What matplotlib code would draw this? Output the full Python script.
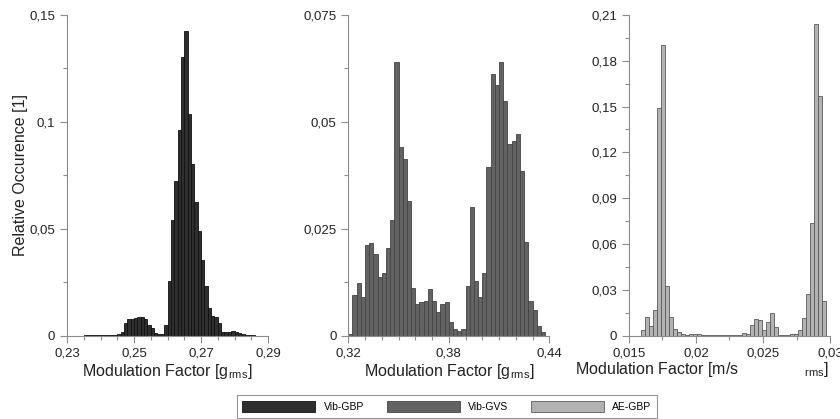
import matplotlib
matplotlib.use("Agg")
import matplotlib.pyplot as plt
from matplotlib.ticker import FixedLocator, FuncFormatter
from matplotlib.patches import Patch

plt.rcParams['font.family'] = ['Liberation Sans', 'DejaVu Sans']

# histogram data (relative occurrence per bin)
gbp_start, gbp_width = 0.235, 0.001
gbp_vals = [0.0002, 0.0002, 0.0003, 0.0003, 0.0002, 0.0002, 0.0002, 0.0002, 0.0002, 0.0003,
            0.0006, 0.0017, 0.0058, 0.0080, 0.0079, 0.0084, 0.0086, 0.0087, 0.0080, 0.0050,
            0.0037, 0.0011, 0.0007, 0.0007, 0.0048, 0.0254, 0.0541, 0.0725, 0.0962, 0.1302,
            0.1427, 0.1036, 0.0803, 0.0627, 0.0491, 0.0354, 0.0230, 0.0128, 0.0094, 0.0087,
            0.0060, 0.0019, 0.0017, 0.0019, 0.0020, 0.0017, 0.0011, 0.0008, 0.0005, 0.0003,
            0.0002]

gvs_start, gvs_width = 0.32, 0.0025
gvs_vals = [0.0003, 0.0095, 0.0123, 0.0091, 0.0211, 0.0216, 0.0190, 0.0138, 0.0147, 0.0204,
            0.0271, 0.0639, 0.0442, 0.0413, 0.0315, 0.0111, 0.0074, 0.0079, 0.0081, 0.0109,
            0.0080, 0.0055, 0.0074, 0.0078, 0.0033, 0.0016, 0.0010, 0.0015, 0.0116, 0.0300,
            0.0128, 0.0090, 0.0147, 0.0394, 0.0611, 0.0585, 0.0640, 0.0549, 0.0448, 0.0456,
            0.0472, 0.0385, 0.0220, 0.0082, 0.0060, 0.0023, 0.0008]

ae_start, ae_width = 0.015, 0.0003
ae_vals = [0, 0, 0, 0.0035, 0.0120, 0.0063, 0.0166, 0.149, 0.190, 0.0327,
           0.0120, 0.0042, 0.0024, 0.0011, 0.0004, 0.0010, 0.0010, 0.0009, 0.0002, 0.0001,
           0.0001, 0.0001, 0.0001, 0.0001, 0.0001, 0.0001, 0.0002, 0.0003, 0.0015, 0.0013,
           0.0068, 0.0110, 0.0105, 0.0037, 0.0092, 0.0148, 0.0055, 0.0005, 0.0003, 0.0003,
           0.0010, 0.0010, 0.0037, 0.0113, 0.0275, 0.0740, 0.2040, 0.1570, 0.0227, 0]

labels = ['Vib-GBP', 'Vib-GVS', 'AE-GBP']
fills = ['#2e2e2e', '#636363', '#b3b3b3']
edges = ['#111111', '#444444', '#5a5a5a']

panels = [
    dict(start=gbp_start, w=gbp_width, vals=gbp_vals,
         xlim=(0.23, 0.29), xmaj=[0.23, 0.25, 0.27, 0.29],
         xmin=[0.23 + 0.005 * i for i in range(13)],
         ylim=0.15, ymaj=[0, 0.05, 0.1, 0.15], ymin=[0.025, 0.075, 0.125],
         xlabel=r'Modulation Factor [g$_{\mathregular{rms}}$]'),
    dict(start=gvs_start, w=gvs_width, vals=gvs_vals,
         xlim=(0.32, 0.44), xmaj=[0.32, 0.38, 0.44],
         xmin=[0.32 + 0.01 * i for i in range(13)],
         ylim=0.075, ymaj=[0, 0.025, 0.05, 0.075], ymin=[0.0125, 0.0375, 0.0625],
         xlabel=r'Modulation Factor [g$_{\mathregular{rms}}$]'),
    dict(start=ae_start, w=ae_width, vals=ae_vals,
         xlim=(0.015, 0.03), xmaj=[0.015, 0.02, 0.025, 0.03],
         xmin=[0.015 + 0.0025 * i for i in range(7)],
         ylim=0.21, ymaj=[0, 0.03, 0.06, 0.09, 0.12, 0.15, 0.18, 0.21],
         ymin=[0.015 + 0.03 * i for i in range(7)],
         xlabel=r'Modulation Factor [m/s               $_{\mathregular{rms}}$]'),
]

fmt = FuncFormatter(lambda v, p: ('%g' % round(v, 6)).replace('.', ','))

fig = plt.figure(figsize=(8.4, 4.19), dpi=100)
lefts = [0.0798, 0.4146, 0.7488]
axes = []
for i, p in enumerate(panels):
    ax = fig.add_axes([lefts[i], 0.199, 0.2393, 0.7654])
    n = len(p['vals'])
    xs = [p['start'] + k * p['w'] for k in range(n)]
    ax.bar(xs, p['vals'], width=p['w'], align='edge', color=fills[i],
           edgecolor=edges[i], linewidth=0.6)
    ax.set_xlim(*p['xlim'])
    ax.set_ylim(0, p['ylim'])
    ax.xaxis.set_major_locator(FixedLocator(p['xmaj']))
    ax.xaxis.set_minor_locator(FixedLocator(p['xmin']))
    ax.yaxis.set_major_locator(FixedLocator(p['ymaj']))
    ax.yaxis.set_minor_locator(FixedLocator(p['ymin']))
    ax.xaxis.set_major_formatter(fmt)
    ax.yaxis.set_major_formatter(fmt)
    for s in ['top', 'right']:
        ax.spines[s].set_visible(False)
    for s in ['left', 'bottom']:
        ax.spines[s].set_color('#8c8c8c')
        ax.spines[s].set_linewidth(0.8)
    ax.tick_params(which='major', length=5, width=0.8, color='#8c8c8c',
                   labelsize=9.5, labelcolor='#222222')
    ax.tick_params(which='minor', length=3, width=0.8, color='#8c8c8c')
    ax.set_xlabel(p['xlabel'], fontsize=11.5, labelpad=2, color='#222222')
    axes.append(ax)

# the third label in the reference starts well left of its axis and runs off the edge
axes[2].xaxis.label.set_horizontalalignment('left')
axes[2].xaxis.set_label_coords(-0.27, -0.075)

axes[0].set_ylabel('Relative Occurence [1]', fontsize=11.5, color='#222222', labelpad=1)

handles = [Patch(facecolor=fills[i], edgecolor=edges[i], linewidth=0.6) for i in range(3)]
leg = fig.legend(handles, labels, loc='center', bbox_to_anchor=(0.532, 0.03), ncol=3,
                 fontsize=7.5, frameon=True, fancybox=False, handlelength=7.0,
                 handleheight=1.3, columnspacing=2.2, handletextpad=0.8, borderpad=0.55)
leg.get_frame().set_edgecolor('#7a7a7a')
leg.get_frame().set_linewidth(0.8)

fig.savefig('out.png', dpi=100)
